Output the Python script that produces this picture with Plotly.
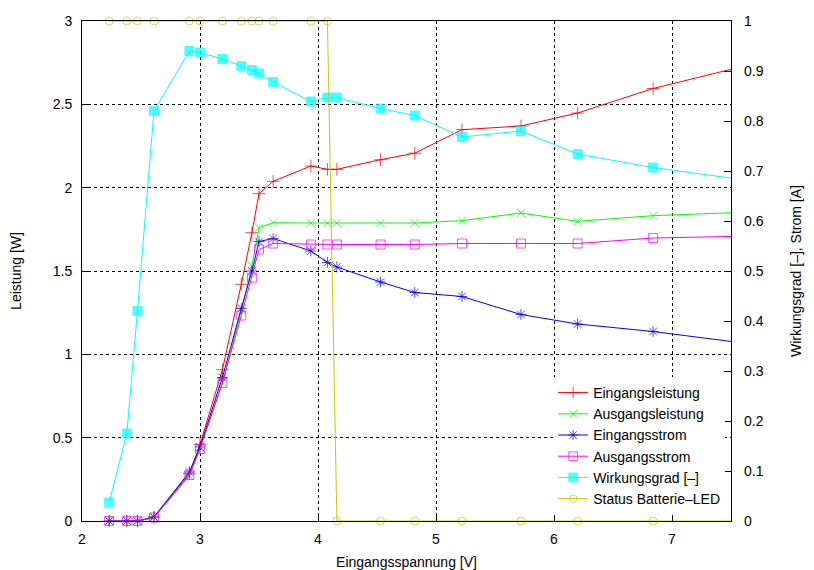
import plotly.graph_objects as go

# Input voltage [V] (last value lies beyond the visible range; the lines run out to it)
spannung = [2.23, 2.38, 2.47, 2.61, 2.91, 3.00, 3.19, 3.35, 3.44, 3.50, 3.62, 3.94,
            4.08, 4.16, 4.53, 4.82, 5.22, 5.72, 6.20, 6.84, 7.90]

# Power [W] (left axis)
eingangsleistung = [0.0, 0.0, 0.0, 0.024, 0.284, 0.46, 0.908, 1.42, 1.73, 1.964, 2.038, 2.13,
                    2.11, 2.11, 2.168, 2.207, 2.348, 2.37, 2.448, 2.595, 2.78]
ausgangsleistung = [0.0, 0.0, 0.0, 0.02, 0.27, 0.44, 0.83, 1.26, 1.53, 1.76, 1.79, 1.788,
                    1.788, 1.788, 1.788, 1.788, 1.802, 1.848, 1.798, 1.832, 1.86]

# Current [A] and efficiency / status (right axis)
eingangsstrom = [0.0, 0.0, 0.0, 0.008, 0.098, 0.148, 0.287, 0.425, 0.50, 0.559, 0.565, 0.54,
                 0.517, 0.508, 0.478, 0.457, 0.449, 0.413, 0.394, 0.379, 0.347]
ausgangsstrom = [0.0, 0.0, 0.0, 0.007, 0.092, 0.144, 0.276, 0.411, 0.487, 0.543, 0.555, 0.553,
                 0.553, 0.553, 0.553, 0.553, 0.555, 0.555, 0.555, 0.566, 0.571]
wirkungsgrad = [0.037, 0.175, 0.42, 0.82, 0.94, 0.937, 0.924, 0.91, 0.902, 0.895, 0.878, 0.839,
                0.847, 0.847, 0.825, 0.811, 0.768, 0.78, 0.734, 0.707, 0.673]
status_led = [1, 1, 1, 1, 1, 1, 1, 1, 1, 1, 1, 1, 1, 0, 0, 0, 0, 0, 0, 0, 0]

x_ticks = [2, 3, 4, 5, 6, 7]
y_ticks = [0, 0.5, 1, 1.5, 2, 2.5, 3]
y2_ticks = [0, 0.1, 0.2, 0.3, 0.4, 0.5, 0.6, 0.7, 0.8, 0.9, 1]

FONT = "Liberation Sans, Arial, sans-serif"
FS = 14
n = len(spannung)
sizes = lambda s: [s] * (n - 1) + [0]

series = [
    ("Eingangsleistung", eingangsleistung, "y", "#ff0000", "cross-thin-open", 9),
    ("Ausgangsleistung", ausgangsleistung, "y", "#00ff00", "x-thin-open", 8),
    ("Eingangsstrom", eingangsstrom, "y2", "#0000ff", "asterisk-open", 9),
    ("Ausgangsstrom", ausgangsstrom, "y2", "#ff00ff", "square-open", 9),
    ("Wirkungsgrad [–]", wirkungsgrad, "y2", "#00ffff", "square", 9),
    ("Status Batterie–LED", status_led, "y2", "#c8c800", "circle-open", 8),
]

fig = go.Figure()
for name, vals, ax, col, sym, sz in series:
    fig.add_trace(go.Scatter(
        x=spannung, y=vals, name=name, yaxis=ax, mode="lines+markers",
        line=dict(color=col, width=1),
        marker=dict(symbol=sym, size=sizes(sz), color=col, line=dict(color=col, width=1)),
        cliponaxis=False,
    ))

fig.update_layout(
    template="none",
    width=814, height=570,
    margin=dict(l=82, r=83, t=21, b=49, autoexpand=False),
    paper_bgcolor="white", plot_bgcolor="white",
    font=dict(family=FONT, size=FS, color="black"),
    showlegend=True,
    legend=dict(
        x=0.991, y=0.012, xanchor="right", yanchor="bottom",
        bgcolor="white", borderwidth=0, font=dict(size=FS),
        tracegroupgap=0, itemwidth=30,
    ),
    xaxis=dict(
        range=[2, 7.5], tickvals=x_ticks, ticktext=[str(v) for v in x_ticks],
        showgrid=True, gridcolor="black", griddash="dot", gridwidth=1,
        showline=True, linecolor="black", linewidth=1, mirror=True,
        ticks="inside", ticklen=7, tickcolor="black", ticklabelstandoff=5,
        zeroline=False, automargin=False,
        title=dict(text="Eingangsspannung [V]", standoff=11, font=dict(size=FS)),
    ),
    yaxis=dict(
        range=[0, 3], tickvals=y_ticks, ticktext=["0", "0.5", "1", "1.5", "2", "2.5", "3"],
        showgrid=True, gridcolor="black", griddash="dot", gridwidth=1,
        showline=True, linecolor="black", linewidth=1, mirror=True,
        ticks="inside", ticklen=7, tickcolor="black", ticklabelstandoff=6,
        zeroline=False, automargin=False,
        title=dict(text="Leistung [W]", standoff=27, font=dict(size=FS)),
    ),
    yaxis2=dict(
        range=[0, 1], tickvals=y2_ticks,
        ticktext=["0", "0.1", "0.2", "0.3", "0.4", "0.5", "0.6", "0.7", "0.8", "0.9", "1"],
        overlaying="y", side="right", showgrid=False, zeroline=False,
        showline=False, ticks="inside", ticklen=7, tickcolor="black", ticklabelstandoff=12,
        automargin=False,
        title=dict(text="Wirkungsgrad [–], Strom [A]", standoff=28, font=dict(size=FS)),
    ),
)

fig.write_html(
    "out.html",
    config={"displayModeBar": False},
    post_script="document.body.style.margin='0';document.body.style.overflow='hidden';",
)
